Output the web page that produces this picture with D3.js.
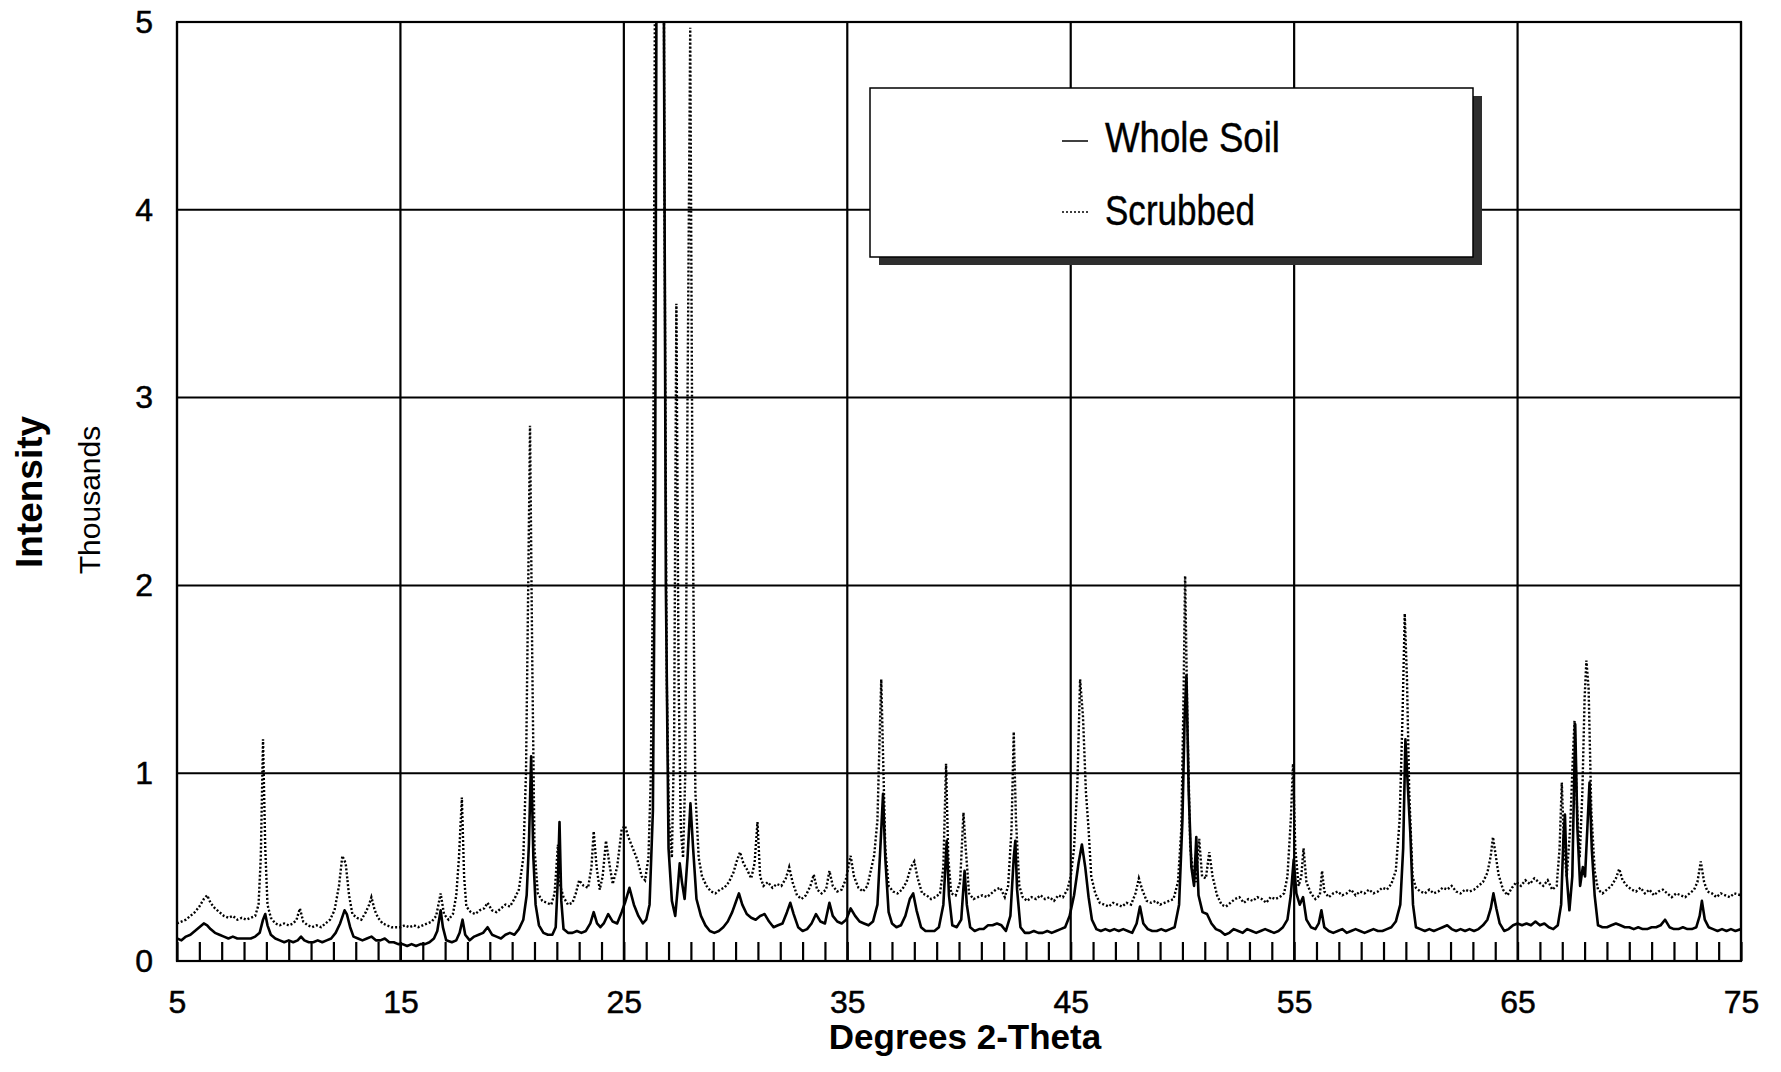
<!DOCTYPE html>
<html>
<head>
<meta charset="utf-8">
<script src="https://cdn.jsdelivr.net/npm/d3@7"></script>
<style>
  body { margin: 0; background: #fff; }
  text { font-family: "Liberation Sans", Arial, sans-serif; fill: #000; }
</style>
</head>
<body>
<div id="chart"></div>
<script>
// XRD patterns: intensity (thousands of counts) vs degrees 2-theta

// tick labels
let xLabels = [5, 15, 25, 35, 45, 55, 65, 75];
let yLabels = [0, 1, 2, 3, 4, 5];
let seriesNames = ["Whole Soil", "Scrubbed"];

// Whole Soil, [2-theta, intensity in thousands]
let wholeSoil = [
  [5.0,0.12],[5.2,0.11],[5.4,0.13],[5.6,0.14],[5.8,0.16],[6.0,0.18],[6.2,0.20],[6.35,0.19],[6.5,0.17],[6.7,0.15],
  [6.9,0.14],[7.1,0.13],[7.3,0.12],[7.5,0.13],[7.7,0.12],[7.9,0.12],[8.1,0.12],[8.3,0.12],[8.5,0.13],[8.7,0.15],
  [8.85,0.22],[8.95,0.25],[9.05,0.19],[9.2,0.14],[9.4,0.12],[9.6,0.11],[9.8,0.10],[10.0,0.11],[10.2,0.10],[10.4,0.11],
  [10.55,0.13],[10.7,0.11],[10.9,0.10],[11.1,0.10],[11.3,0.11],[11.5,0.10],[11.7,0.11],[11.9,0.12],[12.1,0.15],[12.3,0.20],
  [12.5,0.27],[12.6,0.25],[12.75,0.18],[12.9,0.13],[13.1,0.12],[13.3,0.11],[13.5,0.12],[13.7,0.13],[13.9,0.11],[14.1,0.11],
  [14.3,0.12],[14.5,0.10],[14.7,0.10],[14.9,0.09],[15.1,0.09],[15.3,0.08],[15.5,0.09],[15.7,0.08],[15.9,0.09],[16.1,0.09],
  [16.3,0.10],[16.5,0.12],[16.65,0.16],[16.8,0.27],[16.9,0.18],[17.05,0.11],[17.3,0.10],[17.5,0.11],[17.65,0.15],[17.78,0.22],
  [17.9,0.14],[18.1,0.11],[18.3,0.13],[18.5,0.14],[18.7,0.15],[18.9,0.18],[19.1,0.14],[19.3,0.13],[19.5,0.12],[19.7,0.14],
  [19.9,0.15],[20.1,0.14],[20.3,0.17],[20.5,0.22],[20.65,0.35],[20.75,0.62],[20.85,1.09],[20.95,0.55],[21.05,0.30],[21.2,0.19],
  [21.4,0.15],[21.6,0.14],[21.8,0.14],[21.95,0.18],[22.05,0.45],[22.12,0.74],[22.2,0.32],[22.3,0.17],[22.5,0.15],[22.7,0.15],
  [22.9,0.16],[23.1,0.15],[23.3,0.16],[23.5,0.20],[23.65,0.26],[23.8,0.20],[23.95,0.18],[24.1,0.20],[24.3,0.25],[24.5,0.21],
  [24.7,0.20],[24.9,0.26],[25.05,0.31],[25.25,0.39],[25.45,0.30],[25.65,0.24],[25.85,0.20],[26.0,0.22],[26.15,0.30],[26.3,0.80],
  [26.4,2.5],[26.5,7.0],[26.65,9.0],[26.78,5.5],[26.88,2.0],[27.0,0.60],[27.15,0.32],[27.3,0.24],[27.42,0.40],[27.5,0.52],
  [27.6,0.42],[27.72,0.33],[27.85,0.55],[27.98,0.84],[28.1,0.60],[28.25,0.33],[28.45,0.24],[28.65,0.19],[28.85,0.16],[29.05,0.15],
  [29.25,0.16],[29.45,0.18],[29.65,0.21],[29.85,0.26],[30.0,0.31],[30.15,0.36],[30.3,0.30],[30.5,0.25],[30.7,0.23],[30.9,0.22],
  [31.1,0.24],[31.3,0.25],[31.5,0.21],[31.7,0.18],[31.9,0.19],[32.1,0.20],[32.3,0.26],[32.45,0.31],[32.6,0.25],[32.8,0.18],
  [33.0,0.16],[33.2,0.17],[33.4,0.20],[33.6,0.25],[33.8,0.21],[34.0,0.20],[34.2,0.31],[34.35,0.24],[34.55,0.21],[34.75,0.20],
  [34.95,0.22],[35.15,0.28],[35.35,0.24],[35.55,0.21],[35.75,0.20],[35.95,0.19],[36.15,0.21],[36.35,0.30],[36.5,0.65],[36.6,0.89],
  [36.7,0.55],[36.85,0.26],[37.0,0.20],[37.2,0.18],[37.4,0.19],[37.6,0.24],[37.8,0.33],[37.95,0.36],[38.1,0.27],[38.3,0.18],
  [38.5,0.16],[38.7,0.16],[38.9,0.16],[39.1,0.18],[39.3,0.30],[39.45,0.64],[39.55,0.35],[39.7,0.19],[39.9,0.18],[40.1,0.22],
  [40.25,0.48],[40.35,0.30],[40.5,0.18],[40.7,0.16],[40.9,0.17],[41.1,0.17],[41.3,0.19],[41.5,0.19],[41.7,0.20],[41.9,0.19],
  [42.1,0.16],[42.3,0.24],[42.45,0.55],[42.52,0.64],[42.6,0.38],[42.75,0.18],[42.95,0.15],[43.15,0.15],[43.35,0.16],[43.55,0.15],
  [43.75,0.15],[43.95,0.16],[44.15,0.15],[44.35,0.16],[44.55,0.17],[44.75,0.18],[44.95,0.24],[45.15,0.35],[45.35,0.52],[45.5,0.62],
  [45.65,0.50],[45.8,0.34],[45.95,0.22],[46.15,0.17],[46.35,0.16],[46.55,0.17],[46.75,0.16],[46.95,0.17],[47.15,0.16],[47.35,0.17],
  [47.55,0.16],[47.75,0.15],[47.95,0.20],[48.1,0.29],[48.25,0.20],[48.45,0.17],[48.65,0.16],[48.85,0.16],[49.05,0.17],[49.25,0.16],
  [49.45,0.17],[49.65,0.18],[49.85,0.30],[50.0,0.75],[50.1,1.30],[50.18,1.52],[50.28,0.90],[50.4,0.50],[50.52,0.40],[50.62,0.66],
  [50.72,0.35],[50.9,0.26],[51.1,0.25],[51.3,0.20],[51.5,0.17],[51.7,0.16],[51.9,0.14],[52.1,0.15],[52.3,0.17],[52.5,0.16],
  [52.7,0.15],[52.9,0.17],[53.1,0.16],[53.3,0.15],[53.5,0.16],[53.7,0.17],[53.9,0.16],[54.1,0.15],[54.3,0.16],[54.5,0.18],
  [54.7,0.22],[54.85,0.35],[54.98,0.54],[55.1,0.36],[55.25,0.30],[55.4,0.34],[55.55,0.22],[55.75,0.18],[55.95,0.17],[56.1,0.20],
  [56.22,0.27],[56.35,0.18],[56.55,0.16],[56.75,0.15],[56.95,0.16],[57.15,0.17],[57.35,0.15],[57.55,0.16],[57.75,0.17],[57.95,0.16],
  [58.15,0.15],[58.35,0.16],[58.55,0.17],[58.75,0.16],[58.95,0.16],[59.15,0.17],[59.35,0.18],[59.55,0.21],[59.75,0.30],[59.88,0.60],
  [59.98,1.18],[60.08,0.95],[60.2,0.68],[60.32,0.30],[60.45,0.18],[60.65,0.17],[60.85,0.16],[61.05,0.17],[61.25,0.16],[61.45,0.17],
  [61.65,0.18],[61.85,0.19],[62.05,0.17],[62.25,0.16],[62.45,0.17],[62.65,0.16],[62.85,0.17],[63.05,0.16],[63.25,0.17],[63.45,0.19],
  [63.65,0.22],[63.8,0.28],[63.92,0.36],[64.05,0.28],[64.2,0.20],[64.4,0.16],[64.6,0.17],[64.8,0.19],[65.0,0.20],[65.2,0.19],
  [65.4,0.20],[65.6,0.19],[65.8,0.21],[66.0,0.19],[66.2,0.20],[66.4,0.18],[66.6,0.17],[66.8,0.19],[66.95,0.30],[67.05,0.65],
  [67.12,0.78],[67.2,0.45],[67.32,0.27],[67.45,0.45],[67.58,1.26],[67.68,0.70],[67.8,0.40],[67.92,0.50],[68.02,0.45],[68.12,0.70],
  [68.22,0.95],[68.32,0.60],[68.45,0.35],[68.6,0.19],[68.8,0.18],[69.0,0.18],[69.2,0.19],[69.4,0.20],[69.6,0.19],[69.8,0.18],
  [70.0,0.18],[70.2,0.17],[70.4,0.18],[70.6,0.17],[70.8,0.17],[71.0,0.18],[71.2,0.18],[71.4,0.19],[71.6,0.22],[71.8,0.18],
  [72.0,0.17],[72.2,0.17],[72.4,0.18],[72.6,0.17],[72.8,0.17],[73.0,0.18],[73.15,0.24],[73.25,0.32],[73.38,0.22],[73.55,0.18],
  [73.75,0.17],[73.95,0.16],[74.15,0.17],[74.35,0.16],[74.55,0.17],[74.75,0.16],[75.0,0.17]
];

// Scrubbed, [2-theta, intensity in thousands]
let scrubbed = [
  [5.0,0.20],[5.2,0.21],[5.4,0.22],[5.6,0.24],[5.8,0.26],[6.0,0.29],[6.2,0.33],[6.35,0.35],[6.5,0.31],[6.7,0.28],
  [6.9,0.26],[7.1,0.24],[7.3,0.23],[7.5,0.24],[7.7,0.22],[7.9,0.23],[8.1,0.22],[8.3,0.23],[8.5,0.24],[8.65,0.30],
  [8.75,0.55],[8.85,1.18],[8.95,0.60],[9.05,0.30],[9.2,0.23],[9.4,0.20],[9.6,0.19],[9.8,0.20],[10.0,0.19],[10.2,0.20],
  [10.35,0.22],[10.5,0.28],[10.65,0.21],[10.85,0.19],[11.05,0.18],[11.25,0.19],[11.45,0.18],[11.65,0.20],[11.85,0.22],[12.05,0.27],
  [12.25,0.40],[12.4,0.56],[12.55,0.52],[12.7,0.35],[12.85,0.25],[13.05,0.23],[13.25,0.22],[13.45,0.26],[13.6,0.30],[13.7,0.34],
  [13.85,0.27],[14.0,0.23],[14.2,0.20],[14.4,0.19],[14.6,0.18],[14.8,0.18],[15.0,0.18],[15.2,0.19],[15.4,0.18],[15.6,0.19],
  [15.8,0.18],[16.0,0.19],[16.2,0.20],[16.4,0.21],[16.6,0.24],[16.8,0.36],[16.95,0.25],[17.15,0.22],[17.35,0.25],[17.5,0.35],
  [17.62,0.55],[17.75,0.87],[17.85,0.45],[17.95,0.29],[18.15,0.26],[18.35,0.25],[18.55,0.27],[18.75,0.28],[18.9,0.31],[19.1,0.27],
  [19.3,0.26],[19.5,0.28],[19.7,0.30],[19.9,0.29],[20.1,0.33],[20.3,0.38],[20.5,0.55],[20.62,1.00],[20.72,2.00],[20.8,2.85],
  [20.9,1.60],[21.0,0.60],[21.15,0.36],[21.35,0.32],[21.55,0.31],[21.75,0.30],[21.9,0.36],[22.05,0.62],[22.15,0.40],[22.3,0.34],
  [22.5,0.30],[22.7,0.31],[22.85,0.36],[23.0,0.43],[23.2,0.40],[23.4,0.39],[23.55,0.50],[23.65,0.69],[23.78,0.50],[23.92,0.38],
  [24.05,0.45],[24.2,0.64],[24.35,0.52],[24.5,0.41],[24.7,0.50],[24.9,0.70],[25.05,0.72],[25.2,0.66],[25.4,0.60],[25.6,0.54],
  [25.8,0.45],[25.95,0.43],[26.1,0.55],[26.2,0.95],[26.3,2.0],[26.4,5.5],[26.55,8.0],[26.7,9.0],[26.82,4.0],[26.92,1.5],
  [27.02,0.75],[27.15,0.55],[27.25,1.2],[27.35,3.5],[27.45,1.5],[27.55,0.70],[27.65,0.55],[27.75,1.0],[27.85,3.0],[27.97,4.97],
  [28.07,2.5],[28.2,0.90],[28.35,0.55],[28.5,0.45],[28.7,0.40],[28.9,0.37],[29.1,0.36],[29.3,0.38],[29.5,0.39],[29.7,0.42],
  [29.9,0.47],[30.05,0.53],[30.2,0.58],[30.35,0.52],[30.5,0.49],[30.7,0.44],[30.85,0.52],[30.98,0.74],[31.1,0.45],[31.25,0.40],
  [31.45,0.42],[31.65,0.39],[31.85,0.41],[32.05,0.40],[32.25,0.44],[32.4,0.50],[32.55,0.42],[32.75,0.35],[32.95,0.33],[33.15,0.35],
  [33.35,0.40],[33.5,0.46],[33.65,0.38],[33.85,0.36],[34.05,0.38],[34.2,0.48],[34.35,0.40],[34.55,0.37],[34.75,0.38],[34.95,0.44],
  [35.15,0.56],[35.3,0.45],[35.5,0.39],[35.7,0.37],[35.9,0.40],[36.05,0.48],[36.2,0.56],[36.35,0.75],[36.45,1.2],[36.52,1.5],
  [36.6,1.1],[36.7,0.60],[36.85,0.40],[37.05,0.37],[37.25,0.36],[37.45,0.38],[37.65,0.42],[37.85,0.50],[38.0,0.53],[38.15,0.44],
  [38.35,0.36],[38.55,0.35],[38.75,0.33],[38.95,0.34],[39.15,0.36],[39.3,0.50],[39.42,1.05],[39.52,0.55],[39.65,0.36],[39.85,0.35],
  [40.05,0.42],[40.2,0.79],[40.3,0.60],[40.45,0.36],[40.65,0.33],[40.85,0.34],[41.05,0.35],[41.25,0.34],[41.45,0.36],[41.65,0.38],
  [41.85,0.39],[42.05,0.34],[42.2,0.40],[42.35,0.70],[42.45,1.22],[42.55,0.75],[42.7,0.40],[42.85,0.34],[43.05,0.32],[43.25,0.34],
  [43.45,0.33],[43.65,0.35],[43.85,0.33],[44.05,0.34],[44.25,0.32],[44.45,0.35],[44.65,0.34],[44.85,0.38],[45.0,0.45],[45.15,0.60],
  [45.3,0.95],[45.42,1.50],[45.55,1.30],[45.68,0.90],[45.8,0.70],[45.92,0.45],[46.1,0.36],[46.3,0.31],[46.5,0.30],[46.7,0.29],
  [46.9,0.31],[47.1,0.30],[47.3,0.29],[47.5,0.31],[47.7,0.30],[47.9,0.36],[48.05,0.44],[48.2,0.38],[48.4,0.32],[48.6,0.31],
  [48.8,0.32],[49.0,0.30],[49.2,0.31],[49.4,0.32],[49.6,0.33],[49.8,0.42],[49.95,0.70],[50.05,1.40],[50.12,2.05],[50.22,1.30],
  [50.35,0.60],[50.45,0.50],[50.6,0.42],[50.75,0.65],[50.88,0.45],[51.05,0.44],[51.2,0.58],[51.35,0.45],[51.55,0.35],[51.75,0.30],
  [51.95,0.29],[52.15,0.31],[52.35,0.33],[52.55,0.34],[52.75,0.31],[52.95,0.33],[53.15,0.32],[53.35,0.34],[53.55,0.33],[53.75,0.31],
  [53.95,0.34],[54.15,0.33],[54.35,0.34],[54.55,0.36],[54.7,0.45],[54.85,0.75],[54.95,1.05],[55.05,0.60],[55.2,0.40],[55.32,0.45],
  [55.42,0.60],[55.55,0.42],[55.75,0.36],[55.95,0.33],[56.15,0.35],[56.25,0.48],[56.35,0.37],[56.55,0.34],[56.75,0.36],[56.95,0.37],
  [57.15,0.35],[57.35,0.36],[57.55,0.38],[57.75,0.35],[57.95,0.37],[58.15,0.36],[58.35,0.38],[58.55,0.36],[58.75,0.37],[58.95,0.39],
  [59.15,0.38],[59.35,0.41],[59.55,0.48],[59.72,0.75],[59.85,1.30],[59.95,1.85],[60.05,1.50],[60.15,0.90],[60.3,0.45],[60.45,0.39],
  [60.65,0.37],[60.85,0.36],[61.05,0.38],[61.25,0.36],[61.45,0.37],[61.65,0.39],[61.85,0.38],[62.05,0.40],[62.25,0.37],[62.45,0.36],
  [62.65,0.38],[62.85,0.37],[63.05,0.38],[63.25,0.40],[63.45,0.42],[63.65,0.47],[63.8,0.56],[63.9,0.66],[64.0,0.58],[64.15,0.46],
  [64.35,0.38],[64.55,0.35],[64.75,0.39],[64.95,0.42],[65.15,0.40],[65.35,0.43],[65.55,0.41],[65.75,0.44],[65.95,0.42],[66.15,0.40],
  [66.35,0.43],[66.55,0.38],[66.75,0.40],[66.88,0.60],[66.98,0.95],[67.08,0.60],[67.2,0.45],[67.35,0.70],[67.48,1.10],[67.55,1.28],
  [67.65,0.85],[67.78,0.55],[67.9,0.90],[68.0,1.40],[68.08,1.60],[68.18,1.45],[68.3,0.80],[68.45,0.48],[68.6,0.38],[68.8,0.36],
  [69.0,0.38],[69.2,0.40],[69.4,0.44],[69.55,0.49],[69.7,0.43],[69.9,0.40],[70.1,0.38],[70.3,0.37],[70.5,0.39],[70.7,0.36],
  [70.9,0.38],[71.1,0.35],[71.3,0.37],[71.5,0.38],[71.7,0.36],[71.9,0.34],[72.1,0.36],[72.3,0.35],[72.5,0.34],[72.7,0.36],
  [72.9,0.38],[73.05,0.42],[73.2,0.53],[73.35,0.42],[73.5,0.37],[73.7,0.36],[73.9,0.34],[74.1,0.36],[74.3,0.35],[74.5,0.34],
  [74.7,0.36],[75.0,0.35]
];

// dimensions
let margin = { top: 22, right: 40, bottom: 111, left: 177 },
    width = 1781 - margin.left - margin.right,
    height = 1072 - margin.top - margin.bottom;

let svg = d3.select("#chart")
    .append("svg")
    .attr("width", 1781)
    .attr("height", 1072);

let g = svg.append("g")
    .attr("transform", "translate(" + margin.left + "," + margin.top + ")");

// scales
let x = d3.scaleLinear().domain([5, 75]).range([0, width]);
let y = d3.scaleLinear().domain([0, 5]).range([height, 0]);

// gridlines
g.append("g")
    .selectAll("line")
    .data(yLabels)
    .enter().append("line")
    .attr("x1", 0).attr("x2", width)
    .attr("y1", d => y(d)).attr("y2", d => y(d))
    .attr("stroke", "#000").attr("stroke-width", 2);

g.append("g")
    .selectAll("line")
    .data(xLabels)
    .enter().append("line")
    .attr("x1", d => x(d)).attr("x2", d => x(d))
    .attr("y1", 0).attr("y2", height)
    .attr("stroke", "#000").attr("stroke-width", 2.2);

// minor ticks every degree, pointing up into the plot
g.append("g")
    .attr("transform", "translate(0," + height + ")")
    .call(d3.axisBottom(x).tickValues(d3.range(5, 76, 1)).tickSize(-19).tickFormat(""))
    .call(a => a.select(".domain").remove())
    .selectAll("line").attr("stroke", "#000").attr("stroke-width", 2.2);

// x labels
let xAxis = g.append("g")
    .attr("transform", "translate(0," + height + ")")
    .call(d3.axisBottom(x).tickValues(xLabels).tickSize(0).tickPadding(29).tickFormat(d3.format("d")));
xAxis.select(".domain").remove();
xAxis.selectAll("text")
    .style("font-family", '"Liberation Sans", Arial, sans-serif')
    .style("font-size", "32px")
    .style("stroke", "#000").style("stroke-width", "0.5px");

// y labels
let yAxis = g.append("g")
    .call(d3.axisLeft(y).tickValues(yLabels).tickSize(0).tickPadding(24).tickFormat(d3.format("d")));
yAxis.select(".domain").remove();
yAxis.selectAll("text")
    .style("font-family", '"Liberation Sans", Arial, sans-serif')
    .style("font-size", "32px")
    .style("stroke", "#000").style("stroke-width", "0.5px");

// clip to the plotting area
svg.append("defs").append("clipPath").attr("id", "plotClip")
    .append("rect").attr("x", 0).attr("y", 0).attr("width", width).attr("height", height);

let line = d3.line()
    .x(d => x(d[0]))
    .y(d => y(d[1]));

let plot = g.append("g").attr("clip-path", "url(#plotClip)");

plot.append("path")
    .datum(scrubbed)
    .attr("d", line)
    .attr("fill", "none")
    .attr("stroke", "#000")
    .attr("stroke-width", 2.4)
    .attr("stroke-dasharray", "2,2");

plot.append("path")
    .datum(wholeSoil)
    .attr("d", line)
    .attr("fill", "none")
    .attr("stroke", "#000")
    .attr("stroke-width", 2.6)
    .attr("stroke-linejoin", "round");

// frame
g.append("rect")
    .attr("width", width).attr("height", height)
    .attr("fill", "none").attr("stroke", "#000").attr("stroke-width", 2.2);

// legend with its drop shadow
let legend = svg.append("g").attr("transform", "translate(870,88)");
legend.append("rect")
    .attr("x", 9).attr("y", 8).attr("width", 603).attr("height", 169)
    .attr("fill", "#2e2e2e");
legend.append("rect")
    .attr("width", 603).attr("height", 169)
    .attr("fill", "#fff").attr("stroke", "#000").attr("stroke-width", 1.5);

let legendRows = [
  { y: 53, dash: null },
  { y: 124, dash: "2,2" }
];
legendRows.forEach(function (r, i) {
    legend.append("line")
        .attr("x1", 192).attr("x2", 218)
        .attr("y1", r.y).attr("y2", r.y)
        .attr("stroke", "#000").attr("stroke-width", 1.5)
        .attr("stroke-dasharray", r.dash);
    legend.append("text")
        .attr("x", 235).attr("y", r.y + 11 + (i === 1 ? 2 : 0))
        .style("font-size", "42px")
        .style("stroke", "#000").style("stroke-width", "0.4px")
        .attr("textLength", i === 0 ? 175 : 150)
        .attr("lengthAdjust", "spacingAndGlyphs")
        .text(seriesNames[i]);
});

// axis titles
svg.append("text")
    .attr("x", margin.left + width / 2 + 6)
    .attr("y", 1049)
    .attr("text-anchor", "middle")
    .style("font-size", "35px")
    .style("font-weight", "bold")
    .text("Degrees 2-Theta");

svg.append("text")
    .attr("transform", "translate(42,492) rotate(-90)")
    .attr("text-anchor", "middle")
    .style("font-size", "37px")
    .style("font-weight", "bold")
    .text("Intensity");

svg.append("text")
    .attr("transform", "translate(100,500) rotate(-90)")
    .attr("text-anchor", "middle")
    .style("font-size", "30px")
    .text("Thousands");
</script>
</body>
</html>
